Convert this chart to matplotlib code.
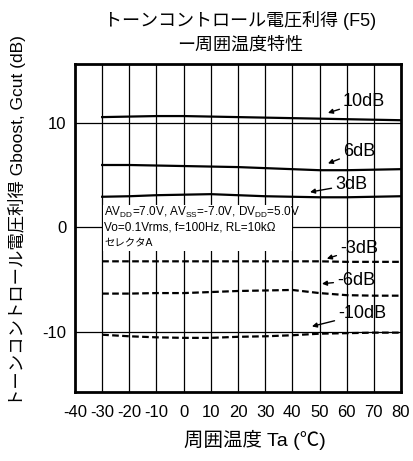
import matplotlib.pyplot as plt
from matplotlib.patches import Rectangle
import numpy as np

plt.rcParams['font.family'] = ['Liberation Sans', 'Noto Sans CJK JP']
plt.rcParams['mathtext.fontset'] = 'custom'
plt.rcParams['mathtext.rm'] = 'Liberation Sans'
plt.rcParams['axes.unicode_minus'] = False

# 周囲温度 (℃)
temp = [-30, -20, -10, 0, 10, 20, 30, 40, 50, 60, 70, 80]

# 各設定値での電圧利得 (dB)
gain_10 = [10.6, 10.65, 10.7, 10.7, 10.65, 10.6, 10.55, 10.5, 10.45, 10.4, 10.35, 10.3]
gain_6 = [6.0, 6.0, 5.95, 5.9, 5.85, 5.8, 5.7, 5.6, 5.5, 5.5, 5.55, 5.6]
gain_3 = [2.95, 3.0, 3.1, 3.15, 3.2, 3.1, 3.0, 2.95, 2.9, 2.9, 2.95, 3.0]
gain_m3 = [-3.25, -3.25, -3.25, -3.25, -3.25, -3.25, -3.25, -3.25, -3.25, -3.3, -3.3, -3.3]
gain_m6 = [-6.35, -6.35, -6.3, -6.3, -6.2, -6.1, -6.05, -6.0, -6.3, -6.5, -6.55, -6.55]
gain_m10 = [-10.3, -10.45, -10.55, -10.6, -10.6, -10.5, -10.45, -10.35, -10.2, -10.15, -10.1, -10.1]

xticks = np.arange(-40, 81, 10)
yticks = [-10, 0, 10]

fig = plt.figure(figsize=(4.14, 4.61), dpi=100)
ax = fig.add_axes([75/414, 1-392/461, 326/414, 328/461])

ax.set_xlim(-40, 80)
ax.set_ylim(-15.8, 15.7)
ax.set_xticks(xticks)
ax.set_yticks(yticks)
ax.tick_params(length=0, labelsize=12)
ax.tick_params(axis='x', pad=9)
ax.tick_params(axis='y', pad=6)

# グリッド
for x in xticks[1:-1]:
    ax.axvline(x, color='black', lw=0.9, zorder=1)
for y in yticks:
    ax.axhline(y, color='black', lw=0.9, zorder=1)
for s in ax.spines.values():
    s.set_linewidth(2)

# 測定条件の欄 (グリッドを隠す)
ax.add_patch(Rectangle((-29.6, -2.3), 69.6, 4.5, facecolor='white', edgecolor='none', zorder=2))
ax.text(-29.2, 1.45, 'AV$_\\mathregular{DD}$=7.0V, AV$_\\mathregular{SS}$=-7.0V, DV$_\\mathregular{DD}$=5.0V',
        fontsize=8.5, va='center', zorder=3)
ax.text(-29.2, 0.0, 'Vo=0.1Vrms, f=100Hz, RL=10kΩ', fontsize=8.5, va='center', zorder=3)
ax.text(-29.2, -1.4, 'セレクタA', fontsize=7.5, va='center', zorder=3)

# 曲線
for g in [gain_10, gain_6, gain_3]:
    ax.plot(temp, g, color='black', lw=1.6, zorder=4)
for g in [gain_m3, gain_m6, gain_m10]:
    ax.plot(temp, g, color='black', lw=1.6, ls=(0, (3, 1.5)), zorder=4)

# ラベルと矢印 (文字位置, 矢印の先端)
labels = [('10dB', 58.6, 12.1, 53.1, 11.0),
          ('6dB', 58.6, 7.3, 53.1, 6.15),
          ('3dB', 55.7, 4.1, 46.5, 3.4),
          ('-3dB', 57.5, -2.0, 52.7, -3.0),
          ('-6dB', 56.4, -5.1, 50.9, -5.4),
          ('-10dB', 56.8, -8.3, 47.2, -9.5)]
for txt, tx, ty, x0, y0 in labels:
    ax.annotate(txt, xy=(x0, y0), xytext=(tx, ty),
                fontsize=13, va='center', ha='left', zorder=5,
                arrowprops=dict(arrowstyle='-|>', color='black', lw=1.0,
                                mutation_scale=7, shrinkA=0.5, shrinkB=0))

fig.text(240/414, 1-20/461, 'トーンコントロール電圧利得 (F5)', fontsize=13, ha='center', va='center')
fig.text(240/414, 1-45/461, 'ー周囲温度特性', fontsize=13, ha='center', va='center')
fig.text(255/414, 1-440/461, '周囲温度 Ta (℃)', fontsize=14, ha='center', va='center')
fig.text(17/414, 1-221/461, 'トーンコントロール電圧利得 Gboost, Gcut (dB)', fontsize=12.5,
         rotation=90, ha='center', va='center')

fig.savefig('out.png', dpi=100)
